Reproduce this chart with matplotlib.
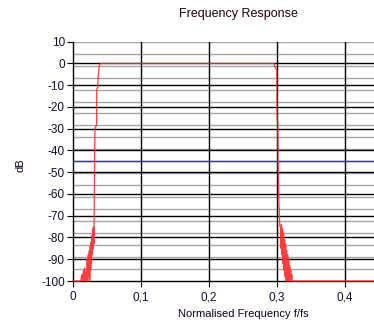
import matplotlib
matplotlib.use("Agg")
import matplotlib.pyplot as plt

# -----------------------------------
# Data
# -----------------------------------
freq = [0.000, 0.0110, 0.0125, 0.0135, 0.0150, 0.0160, 0.0168, 0.0175, 0.0185, 0.0195,
        0.0205, 0.0212, 0.0220, 0.0228, 0.0236, 0.0242, 0.0250, 0.0256, 0.0263, 0.0268,
        0.0275, 0.0280, 0.0287, 0.0292, 0.0298, 0.0303, 0.0310, 0.0315, 0.0319, 0.0330,
        0.0343, 0.0345, 0.0360, 0.0367, 0.0375, 0.0380, 0.0395, 0.0405,
        0.2955, 0.2965, 0.2975, 0.2985, 0.2995, 0.3000, 0.3010, 0.3015, 0.3025, 0.3040,
        0.3050, 0.3058, 0.3064, 0.3072, 0.3080, 0.3088, 0.3095, 0.3103, 0.3110, 0.3118,
        0.3125, 0.3133, 0.3140, 0.3148, 0.3155, 0.3163, 0.3170, 0.3178, 0.3185, 0.3193,
        0.3200, 0.3208, 0.3215, 0.3222, 0.5000]
mag_db = [-100, -100, -97, -100, -95, -100, -94, -100, -96, -100,
          -90, -100, -88, -98, -86, -100, -84, -95, -82, -92,
          -79, -88, -76, -85, -75, -83, -60, -40, -30, -29,
          -28, -12, -11, -5, -4, -1, -0.3, 0,
          0, -1.5, -2, -2.5, -3, -26, -27, -45, -63, -75,
          -75, -85, -74, -88, -76, -92, -78, -95, -81, -98,
          -83, -100, -86, -100, -88, -100, -90, -100, -93, -100,
          -95, -100, -97, -100, -100]

threshold_db = -45

x_ticks = [0, 0.1, 0.2, 0.3, 0.4]
x_tick_labels = ["0", "0,1", "0,2", "0,3", "0,4"]
y_ticks = [10, 0, -10, -20, -30, -40, -50, -60, -70, -80, -90, -100]
y_major_grid = [0, -10, -20, -30, -40, -50, -60, -70, -80, -90]
y_minor_grid = [10, 4.5, -1, -6.5, -12, -17.5, -23, -28.5, -34, -39.5, -45,
                -50.5, -56, -61.5, -67, -72.5, -78, -83.5, -89, -94.5]
x_major_grid = [0.1, 0.2, 0.3, 0.4, 0.5]

# -----------------------------------
# Plot setup
# -----------------------------------
plt.rcParams["font.family"] = ["Liberation Sans", "DejaVu Sans"]

W, H = 374, 329
fig = plt.figure(figsize=(W / 100, H / 100), dpi=100)
# plot area runs past the right edge (the original was cropped)
left, right, top, bottom = 73.3, 413.0, 41.7, 281.0
ax = fig.add_axes([left / W, 1 - bottom / H, (right - left) / W, (bottom - top) / H])

ax.set_xlim(0, 0.5)
ax.set_ylim(-100, 10)

# grid lines
for y in y_minor_grid:
    ax.axhline(y, color="#a6a6a6", lw=1.0, zorder=1)
for y in y_major_grid:
    ax.axhline(y, color="black", lw=1.0, zorder=2)
for x in x_major_grid:
    ax.axvline(x, color="black", lw=1.0, zorder=2)

# curves
ax.axhline(threshold_db, color="#2a2ae0", lw=1.0, zorder=3)
ax.plot(freq, mag_db, color="#ff2a2a", lw=0.9, alpha=0.9, zorder=4, clip_on=False)

# axes style
for s in ["top", "right"]:
    ax.spines[s].set_visible(False)
for s in ["left", "bottom"]:
    ax.spines[s].set_color("black")
    ax.spines[s].set_linewidth(1.0)

ax.set_xticks(x_ticks)
ax.set_xticklabels(x_tick_labels)
ax.set_yticks(y_ticks)
ax.set_yticklabels([str(v) for v in y_ticks])
ax.tick_params(axis="both", direction="out", length=4.5, width=0.8, color="black",
               labelsize=8.5, labelcolor="#101030")
ax.tick_params(axis="y", pad=1.5)
ax.tick_params(axis="x", pad=3)

# text
fig.text(238 / W, 1 - 14 / H, "Frequency Response", ha="center", va="center",
         fontsize=9, color="#200010")
fig.text(243 / W, 1 - 314 / H, "Normalised Frequency f/fs", ha="center", va="center",
         fontsize=8, color="#100020")
fig.text(20 / W, 1 - 165 / H, "dB", ha="center", va="center", rotation=90,
         fontsize=8, color="#100020")

fig.savefig("out.png", dpi=100)
